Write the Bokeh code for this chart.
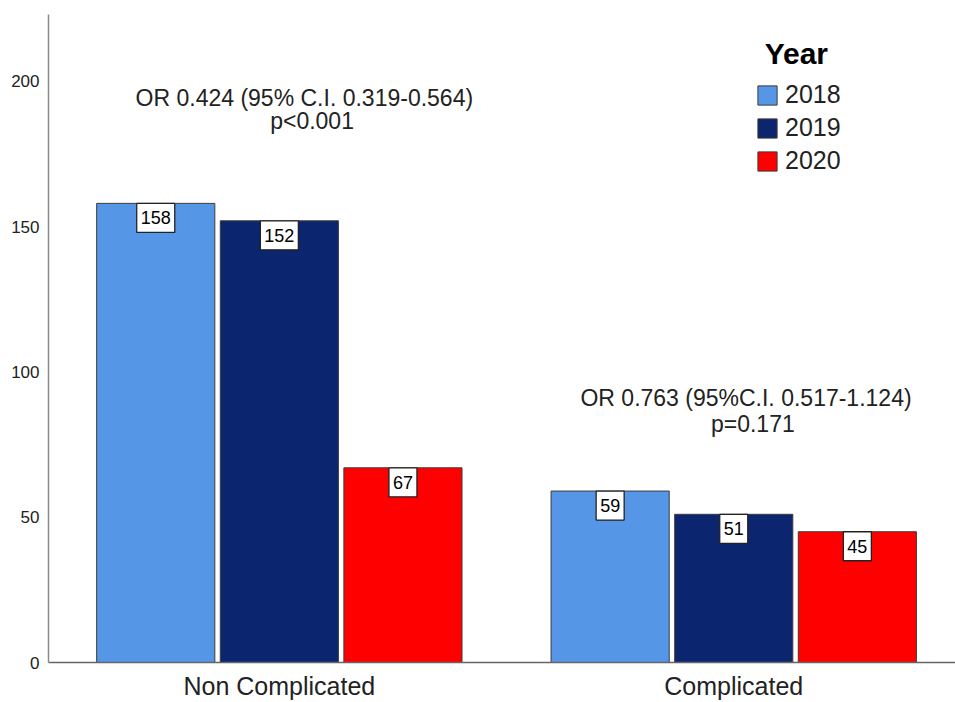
from bokeh.plotting import figure
from bokeh.models import (ColumnDataSource, FixedTicker, Label, Legend,
                          LegendItem, Range1d)
from bokeh.core.properties import value
from bokeh.embed import file_html
from bokeh.resources import INLINE

# ---- data ----
categories = ["Non Complicated", "Complicated"]
years = ["2018", "2019", "2020"]
counts_2018 = [158, 59]
counts_2019 = [152, 51]
counts_2020 = [67, 45]
colors = ["#5596E6", "#0B256F", "#FF0000"]
y_ticks = [0, 50, 100, 150, 200]
annotation_lines = [["OR 0.424 (95% C.I. 0.319-0.564)", "p<0.001"],
                    ["OR 0.763 (95%C.I. 0.517-1.124)", "p=0.171"]]

FONT = "Liberation Sans"

p = figure(width=955, height=702, output_backend="svg", toolbar_location=None,
           x_range=Range1d(0.492, 2.488), y_range=Range1d(0, 223),
           min_border_left=48, min_border_top=14, min_border_right=0,
           min_border_bottom=38)
p.outline_line_color = None
p.xgrid.grid_line_color = None
p.ygrid.grid_line_color = None
p.background_fill_color = "white"

offsets = [-0.272, 0.0, 0.272]
series = [counts_2018, counts_2019, counts_2020]
renderers = []
sources = []
for yr, vals, col, off in zip(years, series, colors, offsets):
    xs = [i + 1 + off for i in range(len(categories))]
    src = ColumnDataSource(dict(x=xs, top=vals, lab=[str(v) for v in vals]))
    sources.append(src)
    r = p.vbar(x="x", top="top", width=0.26, bottom=0, source=src,
               fill_color=col, line_color="#3c3c3c", line_width=1)
    renderers.append(r)

for src in sources:
    p.text(x="x", y="top", text="lab", source=src,
           text_align="center", text_baseline="top", y_offset=0,
           text_font=value(FONT), text_font_size="18px", text_color="black",
           background_fill_color="white", border_line_color="#222222",
           border_line_width=1.3,
           padding=dict(left=4, right=4, top=8, bottom=8))

# axes
p.yaxis.ticker = FixedTicker(ticks=y_ticks)
p.yaxis.major_tick_line_color = None
p.yaxis.minor_tick_line_color = None
p.yaxis.major_tick_out = 0
p.yaxis.major_tick_in = 0
p.yaxis.major_label_standoff = 9
p.yaxis.major_label_text_font = FONT
p.yaxis.major_label_text_font_size = "17px"
p.yaxis.major_label_text_color = "#222222"
p.yaxis.axis_line_color = "#8a8a8a"
p.yaxis.axis_line_width = 1.5

p.xaxis.ticker = FixedTicker(ticks=[1, 2])
p.xaxis.major_label_overrides = {1: categories[0], 2: categories[1]}
p.xaxis.major_tick_line_color = None
p.xaxis.minor_tick_line_color = None
p.xaxis.major_tick_out = 0
p.xaxis.major_tick_in = 0
p.xaxis.major_label_standoff = 9
p.xaxis.major_label_text_font = FONT
p.xaxis.major_label_text_font_size = "25px"
p.xaxis.major_label_text_color = "#222222"
p.xaxis.axis_line_color = "#666666"
p.xaxis.axis_line_width = 1.5

# OR annotations (two lines each)
positions = [[(1.055, 198.8), (1.072, 190.7)], [(2.027, 95.4), (2.042, 86.4)]]
for lines, pos in zip(annotation_lines, positions):
    for txt, (ax, ay) in zip(lines, pos):
        p.add_layout(Label(x=ax, y=ay, text=txt, text_align="center",
                           text_baseline="top", text_font=FONT,
                           text_font_size="23px", text_color="#222222"))

# legend
p.add_layout(Label(x=2.068, y=215.1, text="Year", text_align="left",
                   text_baseline="top", text_font=FONT, text_font_size="30px",
                   text_font_style="bold", text_color="black"))
legend = Legend(items=[LegendItem(label=y, renderers=[r]) for y, r in zip(years, renderers)],
                location=(707, 487), orientation="vertical",
                glyph_width=24, glyph_height=24, label_standoff=6, spacing=4,
                padding=0, margin=0, border_line_color=None,
                background_fill_alpha=0, label_text_font=FONT,
                label_text_font_size="25px", label_text_color="#222222")
p.add_layout(legend)

open("out.html", "w").write(file_html(p, INLINE))
